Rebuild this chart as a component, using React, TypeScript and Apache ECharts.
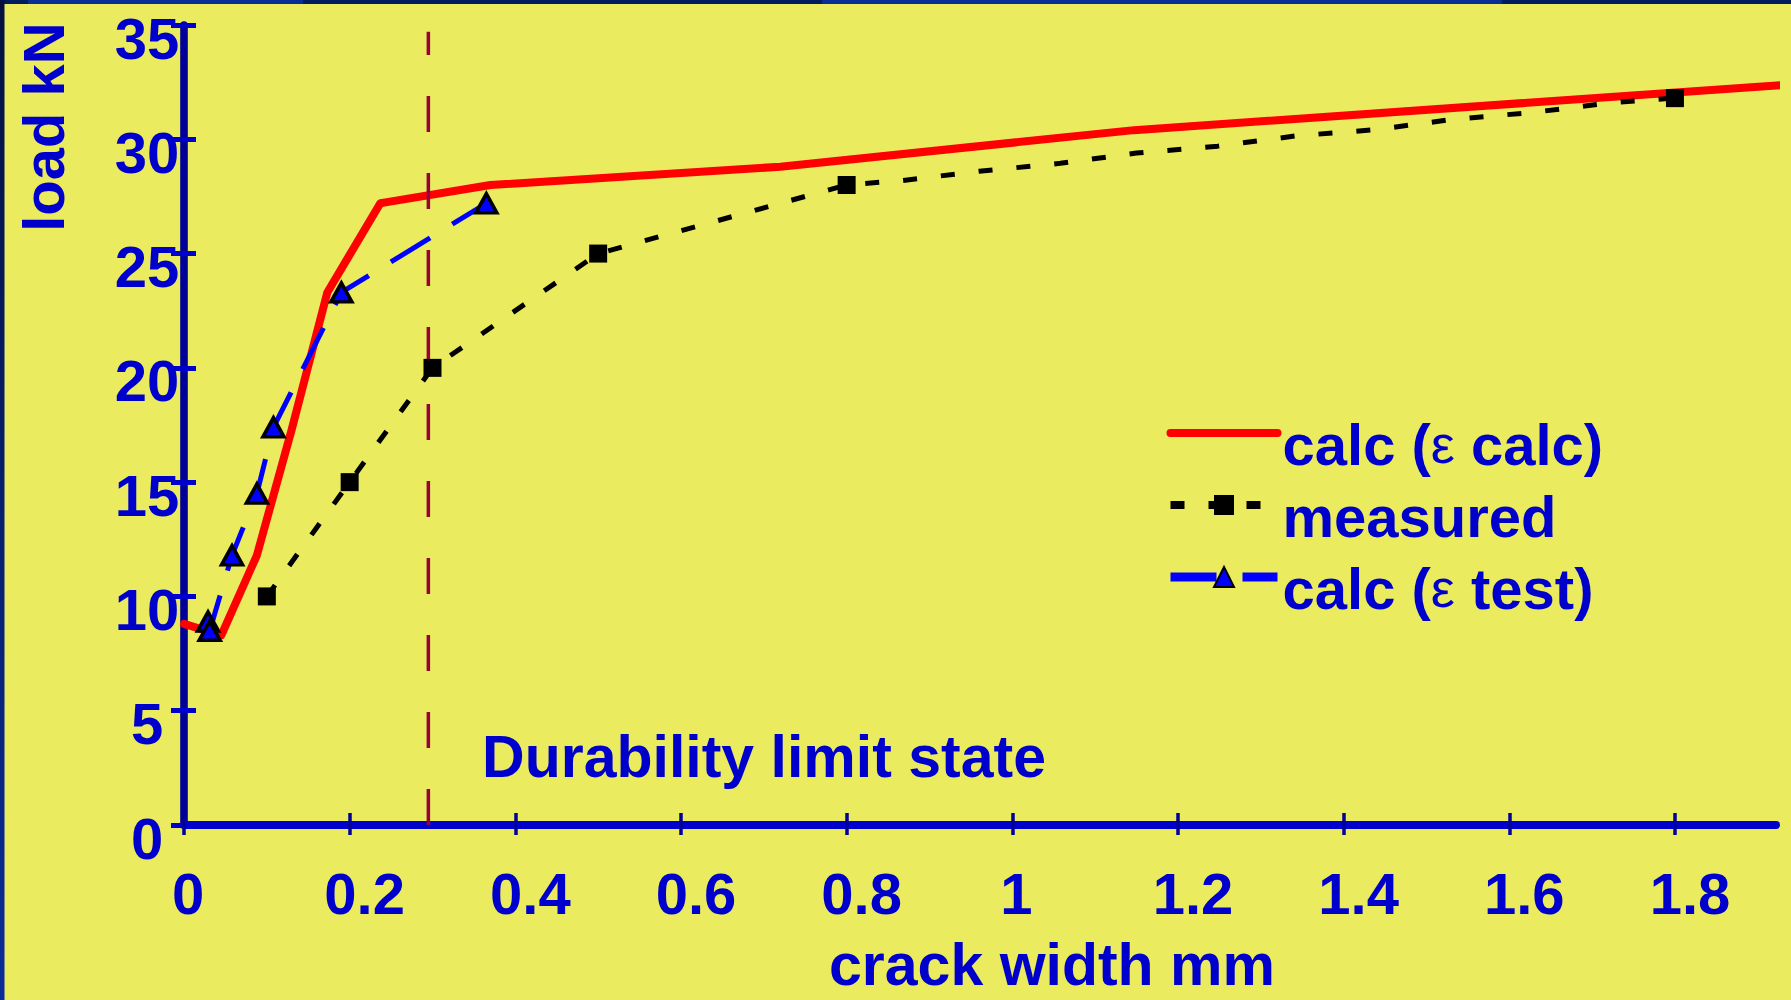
import React, { useEffect, useRef } from 'react';
import * as echarts from 'echarts';

const FONT = '"Liberation Sans", Arial, sans-serif';
const BLUE_TEXT = '#0000CC';

// Axis ticks
const xTicks = [0, 0.2, 0.4, 0.6, 0.8, 1, 1.2, 1.4, 1.6, 1.8];
const xMax = 1.922;
const yMin = 0;
const yMax = 35;
const yStep = 5;

// Series names
const seriesNames = ['calc (ε calc)', 'measured', 'calc (ε test)'];

// calc (ε calc) – red solid
const redX = [0, 0.045, 0.088, 0.13, 0.173, 0.237, 0.245, 0.37, 0.72, 1.147, 1.94];
const redY = [8.8, 8.3, 11.8, 17.3, 23.3, 27.2, 27.25, 28.0, 28.8, 30.4, 32.4];

// measured – black dotted with squares
const measX = [0.1, 0.2, 0.3, 0.5, 0.8, 0.868, 0.96, 1.058, 1.15, 1.248, 1.343, 1.438, 1.534, 1.627, 1.723, 1.8];
const measY = [10, 15, 20, 25, 28, 28.2, 28.6, 28.95, 29.4, 29.7, 30.15, 30.42, 30.88, 31.17, 31.6, 31.8];
const measMarked = [true, true, true, true, true, false, false, false, false, false, false, false, false, false, false, true];

// calc (ε test) – blue dashed with triangles
const blueX = [0.029, 0.031, 0.058, 0.088, 0.108, 0.19, 0.365];
const blueY = [8.9, 8.5, 11.8, 14.5, 17.4, 23.3, 27.2];

// Durability limit state vertical line
const limitX = 0.295;
const limitY = [0, 34.7];

const legendFormatter = (name: string) => {
  const i = name.indexOf('ε');
  if (i < 0) return `{b|${name}}`;
  return `{b|${name.slice(0, i)}}{e|ε}{b|${name.slice(i + 1)}}`;
};

const xLabelFormatter = (v: number) => (Number.isInteger(v) ? `{i|${v}}` : `{d|${v}}`);

const labelBase = {
  fontSize: 58,
  fontWeight: 'bold',
  fontFamily: FONT,
  color: BLUE_TEXT,
  lineHeight: 58,
};

const gridRect = { left: 184, right: 15, top: 25, bottom: 175 };

const option: any = {
  animation: false,
  backgroundColor: '#EBEB5F',
  grid: [{ ...gridRect }, { ...gridRect }],
  legend: {
    data: [
      { name: seriesNames[0], itemStyle: { opacity: 0 }, lineStyle: { width: 8, cap: 'round' } },
      { name: seriesNames[1], lineStyle: { width: 8 } },
      { name: seriesNames[2], lineStyle: { width: 9 } },
    ],
    orient: 'vertical',
    left: 1166,
    top: 397,
    padding: 0,
    itemWidth: 107,
    itemHeight: 25,
    itemGap: -4,
    formatter: legendFormatter,
    textStyle: {
      color: BLUE_TEXT,
      fontSize: 58,
      fontWeight: 'bold',
      fontFamily: FONT,
      lineHeight: 50,
      padding: [22, 0, 0, 0],
      rich: {
        b: { color: BLUE_TEXT, fontSize: 58, fontWeight: 'bold', fontFamily: FONT, lineHeight: 50 },
        e: { color: BLUE_TEXT, fontSize: 54, fontWeight: 'normal', fontFamily: FONT, lineHeight: 50 },
      },
    },
  },
  xAxis: [
    {
      type: 'value',
      gridIndex: 0,
      min: 0,
      max: xMax,
      interval: 0.2,
      position: 'bottom',
      axisLine: { show: true, onZero: false, lineStyle: { color: '#0000CC', width: 8, cap: 'round' } },
      axisTick: { show: true, inside: false, length: 10, customValues: xTicks, lineStyle: { color: '#000099', width: 3.5 } },
      axisLabel: {
        customValues: xTicks,
        margin: 39,
        formatter: xLabelFormatter,
        ...labelBase,
        rich: {
          i: { ...labelBase, padding: [0, 0, 0, 8] },
          d: { ...labelBase, padding: [0, 0, 0, 30] },
        },
      },
      splitLine: { show: false },
    },
    {
      type: 'value',
      gridIndex: 1,
      min: 0,
      max: xMax,
      interval: 0.2,
      position: 'bottom',
      axisLine: { show: false, onZero: false },
      axisTick: { show: true, inside: true, length: 12, customValues: xTicks, lineStyle: { color: '#000099', width: 3.5 } },
      axisLabel: { show: false },
      splitLine: { show: false },
    },
  ],
  yAxis: [
    {
      type: 'value',
      gridIndex: 0,
      min: yMin,
      max: yMax,
      interval: yStep,
      position: 'left',
      axisLine: { show: true, onZero: false, lineStyle: { color: '#000099', width: 7.6, cap: 'round' } },
      axisTick: { show: true, inside: false, length: 13, lineStyle: { color: '#0000CC', width: 5 } },
      axisLabel: {
        margin: 37,
        align: 'center',
        verticalAlign: 'top',
        lineHeight: 26,
        fontSize: 58,
        fontWeight: 'bold',
        fontFamily: FONT,
        color: BLUE_TEXT,
      },
      splitLine: { show: false },
    },
    {
      type: 'value',
      gridIndex: 1,
      min: yMin,
      max: yMax,
      interval: yStep,
      position: 'left',
      axisLine: { show: false, onZero: false },
      axisTick: { show: true, inside: true, length: 12, lineStyle: { color: '#0000CC', width: 5 } },
      axisLabel: { show: false },
      splitLine: { show: false },
    },
  ],
  series: [
    {
      name: seriesNames[0],
      type: 'line',
      data: redX.map((x, i) => [x, redY[i]]),
      symbol: 'none',
      clip: false,
      lineStyle: { color: '#FF0000', width: 8, cap: 'round', join: 'round' },
      itemStyle: { color: '#FF0000' },
    },
    {
      name: 'Durability limit',
      type: 'line',
      data: limitY.map((y) => [limitX, y]),
      symbol: 'none',
      lineStyle: { color: '#99003A', width: 3.5, type: [36, 41] },
      itemStyle: { color: '#99003A' },
    },
    {
      name: seriesNames[1],
      type: 'line',
      data: measX.map((x, i) => ({ value: [x, measY[i]], symbol: measMarked[i] ? 'rect' : 'none' })),
      symbol: 'rect',
      symbolSize: 18,
      showAllSymbol: true,
      lineStyle: { color: '#000000', width: 5, type: [14, 24] },
      itemStyle: { color: '#000000' },
    },
    {
      name: seriesNames[2],
      type: 'line',
      data: blueX.map((x, i) => [x, blueY[i]]),
      symbol: 'triangle',
      symbolSize: [21, 19],
      lineStyle: { color: '#0000FF', width: 5, type: [46, 26] },
      itemStyle: { color: '#0000FF', borderColor: '#000000', borderWidth: 3.5 },
    },
  ],
  graphic: [
    { type: 'rect', shape: { x: 0, y: 0, width: 1791, height: 4 }, style: { fill: '#001B5E' }, z: 10 },
    { type: 'rect', shape: { x: 28, y: 0, width: 275, height: 4 }, style: { fill: '#0A2C96' }, z: 11 },
    { type: 'rect', shape: { x: 822, y: 0, width: 680, height: 4 }, style: { fill: '#0A2C96' }, z: 11 },
    {
      type: 'rect',
      shape: { x: 0, y: 0, width: 4.5, height: 1000 },
      style: {
        fill: new echarts.graphic.LinearGradient(0, 0, 0, 1, [
          { offset: 0, color: '#02113F' },
          { offset: 1, color: '#0A2C9A' },
        ]),
      },
      z: 10,
    },
    {
      type: 'text',
      x: 43,
      y: 127,
      rotation: Math.PI / 2,
      style: { text: 'load kN', fill: BLUE_TEXT, font: `bold 58px ${FONT}`, align: 'center', verticalAlign: 'middle' },
      z: 10,
    },
    {
      type: 'text',
      x: 1052,
      y: 965,
      style: { text: 'crack width mm', fill: BLUE_TEXT, font: `bold 59px ${FONT}`, align: 'center', verticalAlign: 'middle' },
      z: 10,
    },
    {
      type: 'text',
      x: 764,
      y: 757,
      style: { text: 'Durability limit state', fill: BLUE_TEXT, font: `bold 59px ${FONT}`, align: 'center', verticalAlign: 'middle' },
      z: 10,
    },
  ],
};

export default function App() {
  const ref = useRef<HTMLDivElement>(null);
  useEffect(() => {
    if (!ref.current) return;
    const chart = echarts.init(ref.current, undefined, { renderer: 'svg' });
    chart.setOption(option);
    return () => chart.dispose();
  }, []);
  return <div ref={ref} style={{ position: 'absolute', left: 0, top: 0, width: 1791, height: 1000 }} />;
}
